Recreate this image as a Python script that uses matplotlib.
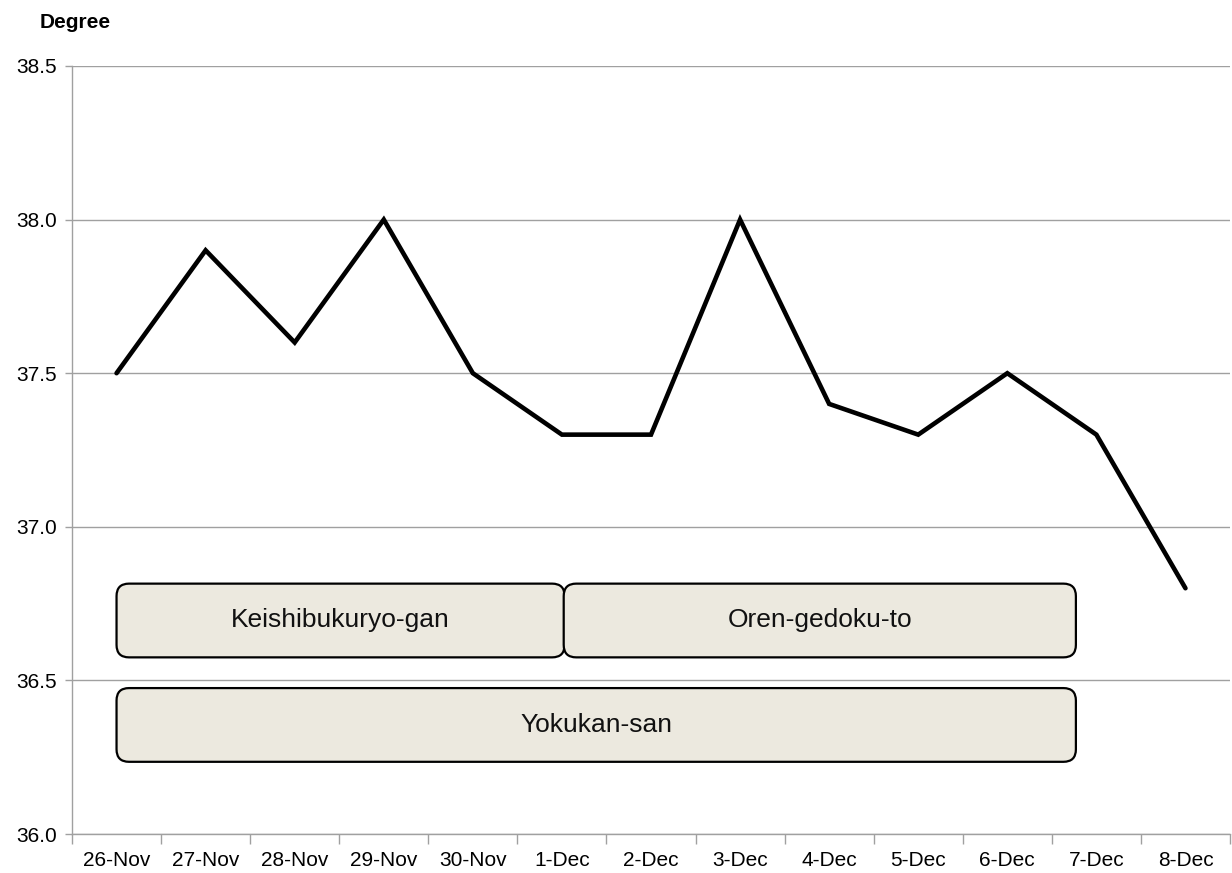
import numpy as np
import matplotlib
matplotlib.use('Agg')
import matplotlib.pyplot as plt
from matplotlib.patches import FancyBboxPatch

plt.rcParams['font.family'] = ['Liberation Sans', 'DejaVu Sans']

# data
dates = ['26-Nov', '27-Nov', '28-Nov', '29-Nov', '30-Nov', '1-Dec', '2-Dec',
         '3-Dec', '4-Dec', '5-Dec', '6-Dec', '7-Dec', '8-Dec']
temps = [37.5, 37.9, 37.6, 38.0, 37.5, 37.3, 37.3, 38.0, 37.4, 37.3, 37.5, 37.3, 36.8]

# medication periods: name, start idx, end idx, y bottom, y top
drug_names = ['Keishibukuryo-gan', 'Oren-gedoku-to', 'Yokukan-san']
drug_start = [0.0, 5.02, 0.0]
drug_end = [5.03, 10.77, 10.77]
drug_low = [36.575, 36.575, 36.235]
drug_high = [36.815, 36.815, 36.475]

grid_col = '#a0a0a0'

fig = plt.figure(figsize=(12.32, 8.73), dpi=100)
ax = fig.add_axes([72/1232, 39/873, 1158/1232, 768/873])

x = np.arange(len(dates))

ax.set_ylim(36.0, 38.5)
ax.set_xlim(-0.5, len(dates) - 0.5)
ax.set_yticks(np.arange(36.0, 38.51, 0.5))
ax.set_yticklabels([f'{v:.1f}' for v in np.arange(36.0, 38.51, 0.5)])
ax.yaxis.grid(True, color=grid_col, linewidth=1.0)
ax.set_axisbelow(True)

# medication boxes
for name, s, e, lo, hi in zip(drug_names, drug_start, drug_end, drug_low, drug_high):
    box = FancyBboxPatch((s, lo), e - s, hi - lo,
                         boxstyle='round,pad=0,rounding_size=0.14',
                         mutation_aspect=0.29,
                         facecolor='#ecE9df', edgecolor='black', linewidth=1.6, zorder=3)
    ax.add_patch(box)
    ax.text((s + e) / 2, (lo + hi) / 2, name, ha='center', va='center',
            fontsize=19, color='#111111', zorder=4)

ax.plot(x, temps, color='black', linewidth=3.3, zorder=5,
        solid_joinstyle='miter', solid_capstyle='round')

# x ticks: labels at category centres, tick marks at boundaries
ax.set_xticks(x)
ax.set_xticklabels(dates)
ax.set_xticks(np.arange(-0.5, len(dates)), minor=True)
ax.tick_params(axis='x', which='major', length=0, labelsize=15, pad=12)
ax.tick_params(axis='x', which='minor', length=7, color=grid_col, width=1.0)
ax.tick_params(axis='y', length=5, color=grid_col, width=1.0, labelsize=15, pad=6)

for side in ['top', 'right']:
    ax.spines[side].set_visible(False)
for side in ['left', 'bottom']:
    ax.spines[side].set_color(grid_col)
    ax.spines[side].set_linewidth(1.0)

fig.text(40/1232, 1 - 22/873, 'Degree', fontsize=15, fontweight='bold', va='center', ha='left')

fig.savefig('out.png', dpi=100)
